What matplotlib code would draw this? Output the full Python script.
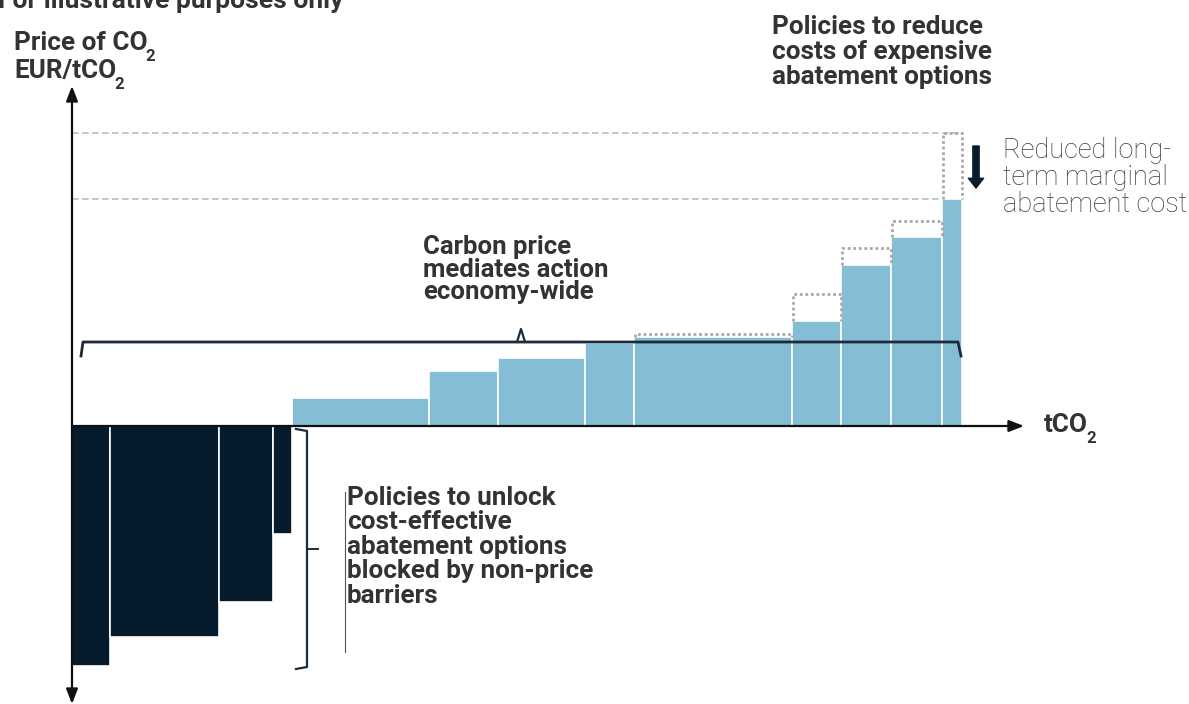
import matplotlib
matplotlib.use("Agg")
import matplotlib.pyplot as plt

plt.rcParams['font.family'] = ['Roboto', 'DejaVu Sans']

# ── Data (illustrative units) ────────────────────────────────────────────────
neg_widths = [38, 109, 54, 19]
neg_costs = [-240, -211, -176, -108]

pos_widths = [137, 69, 87, 49, 158, 49, 50, 51, 20]
pos_costs = [28, 55, 68, 83, 89, 105, 161, 189, 227]
# cost before policies (None = unchanged)
pos_costs_before = [None, None, None, None, 92, 132, 178, 205, 293]

DARK = '#061b2b'
BLUE = '#85bed4'
TEXT = '#333333'
GREY_DOT = '#a8a8a8'
GREY_DASH = '#bdbdbd'

fig = plt.figure(figsize=(11.89, 7.04), dpi=100)
ax = fig.add_axes([0, 0, 1, 1])
# origin of the chart sits at pixel (72, 426); one unit = one pixel
ax.set_xlim(-72, 1117)
ax.set_ylim(-278, 426)
ax.axis('off')


def X(px):
    return px - 72


def Y(py):
    return 426 - py


def label_sub(px, py, main, size=18.8):
    """Bold label with a dropped subscript 2 after it (CO2)."""
    t = ax.text(X(px), Y(py), main, fontsize=size, fontweight='bold',
                color=TEXT, va='baseline', ha='left')
    ax.annotate('2', xy=(1, 0), xycoords=t, xytext=(-1.5, -4.5),
                textcoords='offset points', fontsize=12, fontweight='bold',
                color=TEXT, va='baseline', ha='left')
    return t


# ── Bars ─────────────────────────────────────────────────────────────────────
lefts = []
x = 0
for w in neg_widths:
    lefts.append(x)
    x += w
ax.bar(lefts, neg_costs, width=neg_widths, align='edge', color=DARK,
       edgecolor='white', linewidth=1.2, zorder=2)

pos_lefts = []
for w in pos_widths:
    pos_lefts.append(x)
    x += w
ax.bar(pos_lefts, pos_costs, width=pos_widths, align='edge', color=BLUE,
       edgecolor='white', linewidth=1.2, zorder=2)
end_x = x

# dotted outlines of the costs before the policies
for l, w, c, b in zip(pos_lefts, pos_widths, pos_costs, pos_costs_before):
    if b is None:
        continue
    ax.plot([l + 1, l + 1, l + w, l + w], [c, b, b, c], color=GREY_DOT,
            lw=2, linestyle=(0, (1, 1)), zorder=3)

# dashed reference lines: old and new marginal cost
ax.plot([0, end_x], [pos_costs_before[-1]] * 2, color=GREY_DASH, lw=1.2,
        linestyle=(0, (4, 2)), zorder=1)
ax.plot([0, pos_lefts[-1]], [pos_costs[-1]] * 2, color=GREY_DASH, lw=1.2,
        linestyle=(0, (4, 2)), zorder=1)

# ── Axes with arrows ─────────────────────────────────────────────────────────
arrow_kw = dict(arrowstyle='-|>,head_length=0.9,head_width=0.35', color='#111111',
                lw=1.6, shrinkA=0, shrinkB=0)
ax.annotate('', xy=(0, Y(86)), xytext=(0, 0), arrowprops=arrow_kw, zorder=5)
ax.annotate('', xy=(0, Y(704)), xytext=(0, 0), arrowprops=arrow_kw, zorder=5)
ax.annotate('', xy=(X(1024), 0), xytext=(0, 0), arrowprops=arrow_kw, zorder=5)

# ── Braces ───────────────────────────────────────────────────────────────────
BRACE = '#1b2b3a'
by = Y(342)
ax.plot([X(81), X(83), X(958), X(961)], [Y(356), by, by, Y(356)],
        color=BRACE, lw=2, zorder=4, solid_joinstyle='round')
ax.plot([X(517), X(521), X(525)], [by, Y(329), by], color=BRACE, lw=1.6, zorder=4)

bx = X(307)
ax.plot([X(296), bx, bx, X(296)], [Y(429), Y(431), Y(667), Y(669)],
        color=BRACE, lw=1.6, zorder=4)
ax.plot([bx, X(318)], [Y(549), Y(549)], color=BRACE, lw=1.4, zorder=4)

# thin marker line beside the lower annotation
ax.plot([X(345), X(345)], [Y(492), Y(652)], color='#555555', lw=0.8)

# down arrow for reduced marginal cost
ax.annotate('', xy=(X(976), Y(188)), xytext=(X(976), Y(146)),
            arrowprops=dict(arrowstyle='simple,head_length=0.7,head_width=1.1,tail_width=0.45',
                            color=DARK, shrinkA=0, shrinkB=0), zorder=5)

# ── Text ─────────────────────────────────────────────────────────────────────
ax.text(X(-2), Y(8), 'For illustrative purposes only', fontsize=19,
        fontweight='bold', color=TEXT, va='baseline', ha='left')
label_sub(14, 50, 'Price of CO')
label_sub(14, 78, 'EUR/tCO')
label_sub(1044, 432, 'tCO')

ax.text(X(772), Y(15), 'Policies to reduce\ncosts of expensive\nabatement options',
        fontsize=18.8, fontweight='bold', color=TEXT, va='top', linespacing=1.04)
ax.text(X(1003), Y(137), 'Reduced long-\nterm marginal\nabatement cost',
        fontsize=19.5, fontweight='light', color='#3a3a3a', va='top',
        linespacing=1.0)
ax.text(X(423), Y(235), 'Carbon price\nmediates action\neconomy-wide',
        fontsize=18.5, fontweight='bold', color=TEXT, va='top', linespacing=0.93)
ax.text(X(347), Y(486), 'Policies to unlock\ncost-effective\nabatement options\n'
        'blocked by non-price\nbarriers',
        fontsize=18.8, fontweight='bold', color=TEXT, va='top', linespacing=1.02)

fig.savefig('out.png', dpi=100, facecolor='white')
